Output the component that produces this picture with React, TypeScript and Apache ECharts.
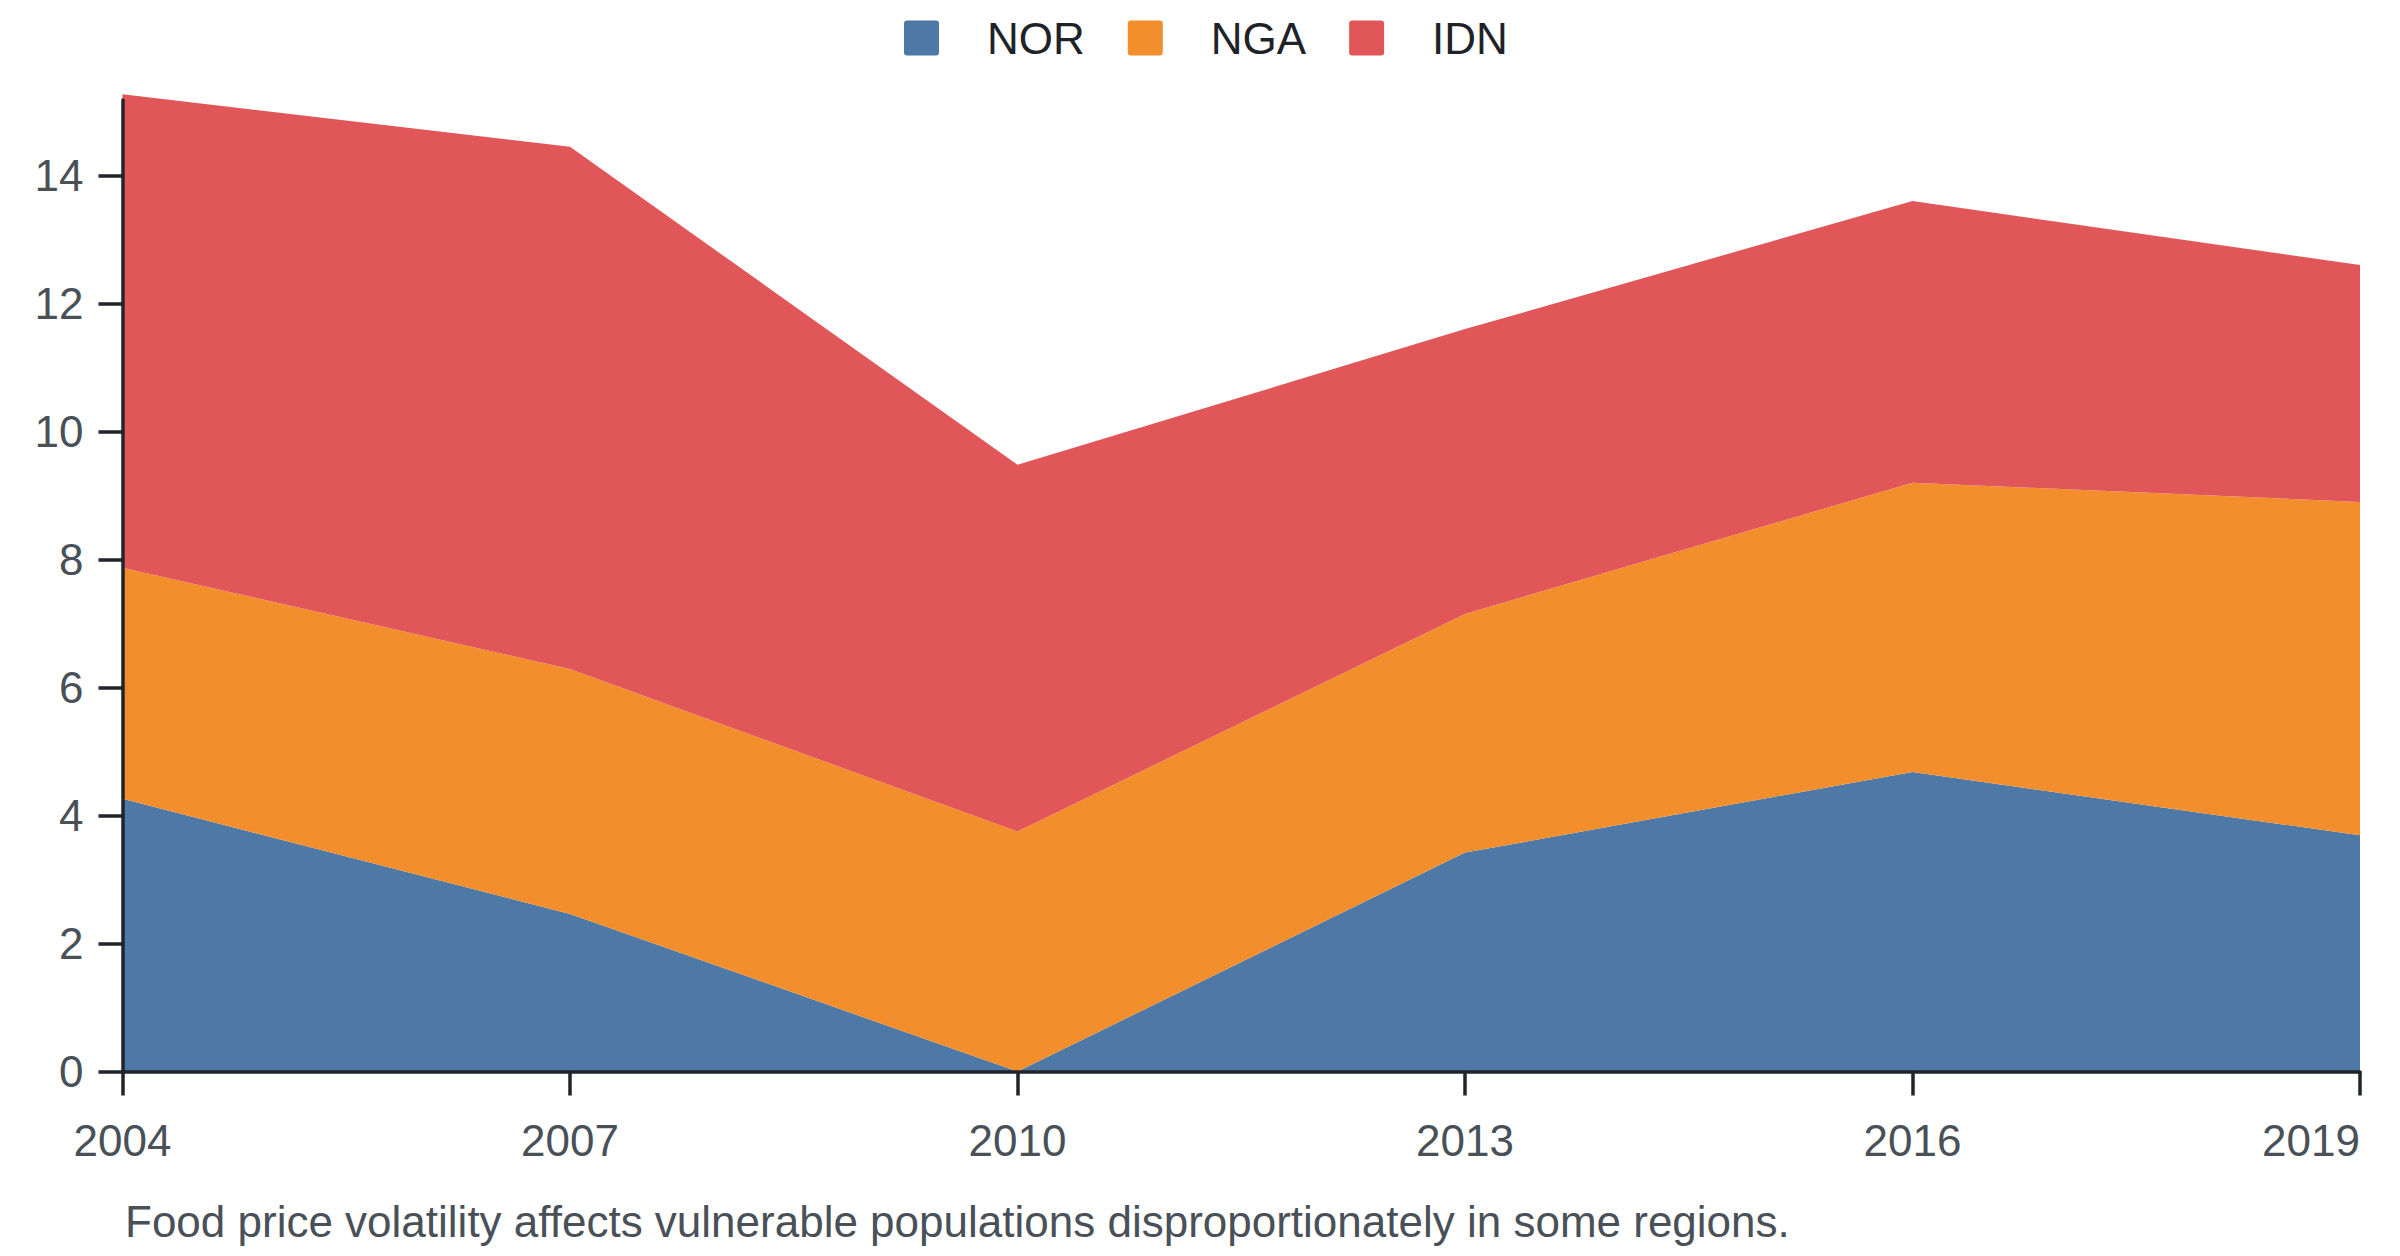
import React, { useEffect, useRef } from "react";
import * as echarts from "echarts";

const years = ["2004", "2007", "2010", "2013", "2016", "2019"];
const NOR = [4.26, 2.46, 0.0, 3.42, 4.68, 3.69];
const NGA = [3.61, 3.83, 3.75, 3.73, 4.52, 5.21];
const IDN = [7.4, 8.16, 5.73, 4.45, 4.4, 3.7];
const yTicks = [0, 2, 4, 6, 8, 10, 12, 14];
const seriesNames = ["NOR", "NGA", "IDN"];
const colors = ["#4e79a7", "#f28e2c", "#e15759"];
const caption =
  "Food price volatility affects vulnerable populations disproportionately in some regions.";

const FONT = "'Liberation Sans', Arial, Helvetica, sans-serif";
const SQUARE_ICON =
  "path://M3,0H32Q35,0 35,3V32Q35,35 32,35H3Q0,35 0,32V3Q0,0 3,0Z";

export default function App() {
  const ref = useRef<HTMLDivElement>(null);
  useEffect(() => {
    if (!ref.current) return;
    const chart = echarts.init(ref.current, undefined, { renderer: "svg" });
    const values = [NOR, NGA, IDN];
    chart.setOption({
      animation: false,
      backgroundColor: "#ffffff",
      textStyle: { fontFamily: FONT },
      legend: {
        left: 904,
        top: 16,
        padding: 0,
        itemWidth: 35,
        itemHeight: 35,
        itemGap: 43,
        icon: SQUARE_ICON,
        data: seriesNames,
        textStyle: {
          fontFamily: FONT,
          fontSize: 44,
          color: "#1f2328",
          padding: [0, 0, 0, 43],
        },
      },
      grid: { left: 122.5, right: 40, top: 100, bottom: 184.5, containLabel: false },
      xAxis: {
        type: "category",
        boundaryGap: false,
        data: years.map((y, i) =>
          i === years.length - 1 ? { value: y, textStyle: { align: "right" } } : y
        ),
        z: 10,
        axisLine: { lineStyle: { color: "#212529", width: 3.5 } },
        axisTick: { length: 24, lineStyle: { color: "#212529", width: 3.5 } },
        axisLabel: { fontFamily: FONT, fontSize: 44, color: "#495057", margin: 47 },
        splitLine: { show: false },
      },
      yAxis: {
        type: "value",
        min: 0,
        max: 15.18,
        interval: 2,
        z: 10,
        axisLine: { show: true, lineStyle: { color: "#212529", width: 3.5 } },
        axisTick: {
          show: true,
          length: 24,
          customValues: yTicks,
          lineStyle: { color: "#212529", width: 3.5 },
        },
        axisLabel: {
          fontFamily: FONT,
          fontSize: 44,
          color: "#495057",
          margin: 39,
          customValues: yTicks,
        },
        splitLine: { show: false },
      },
      series: seriesNames.map((name, i) => ({
        name,
        type: "line",
        stack: "total",
        data: values[i],
        showSymbol: false,
        symbol: "none",
        clip: false,
        lineStyle: { width: 0 },
        itemStyle: { color: colors[i] },
        areaStyle: { color: colors[i], opacity: 1 },
      })),
      graphic: [
        {
          type: "text",
          left: 125,
          top: 1221 - 22,
          style: {
            text: caption,
            fontFamily: FONT,
            fontSize: 44,
            fill: "#495057",
          },
        },
      ],
    });
    return () => chart.dispose();
  }, []);
  return (
    <div
      ref={ref}
      style={{ position: "fixed", left: 0, top: 0, width: 2400, height: 1256, background: "#fff" }}
    />
  );
}
